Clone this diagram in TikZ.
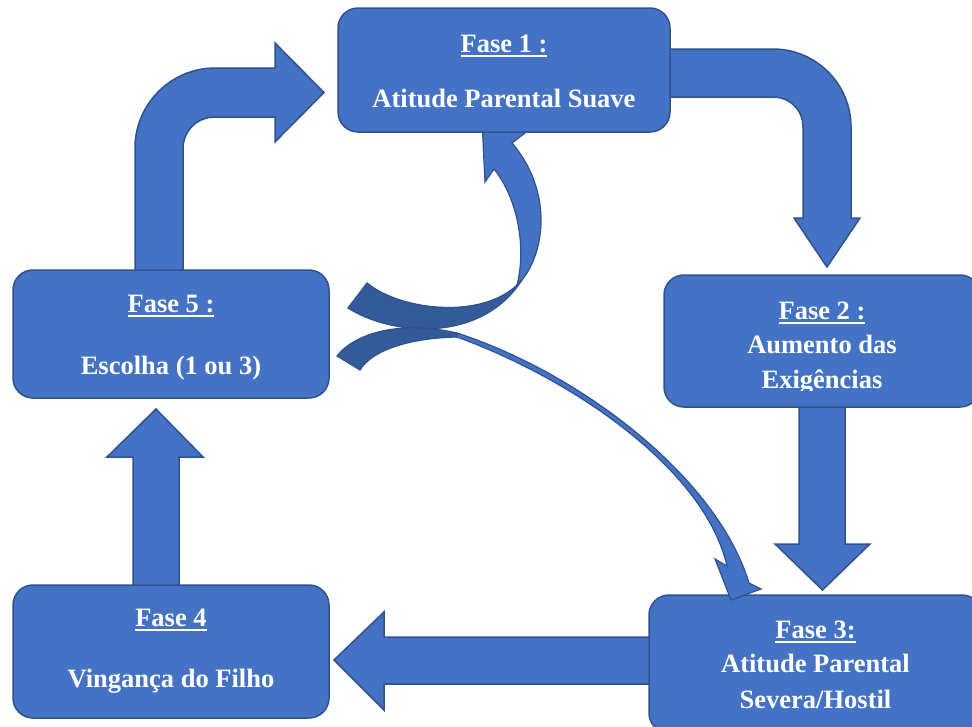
\documentclass[tikz,border=0pt]{standalone}
\usepackage{fontspec}
\setmainfont{Liberation Serif}
\newcommand\myul[1]{\setbox0\hbox{#1}\rlap{\rule[-4.7pt]{\wd0}{2.2pt}}\box0}
\definecolor{fillb}{HTML}{4472C4}
\definecolor{edgeb}{HTML}{2F528F}
\definecolor{darkb}{HTML}{335A99}
\begin{document}
\begin{tikzpicture}[x=1pt,y=-1pt,
  box/.style={draw=edgeb, line width=1.5pt, fill=fillb, rounded corners=20pt, rectangle, inner sep=0pt},
  blk/.style={draw=edgeb, line width=1.5pt, fill=fillb, line join=miter},
  dark/.style={draw=edgeb, line width=1.2pt, fill=darkb},
  txt/.style={text=white, font=\fontsize{26.5}{30}\selectfont\bfseries, anchor=base, inner sep=0pt}]
\useasboundingbox (0,0) rectangle (972,726);

% block arrows
\draw[blk] (670,49) -- (773,49) .. controls (816,49) and (851,84) .. (851,127) -- (851,218) -- (860,218) -- (827,267) -- (794,218) -- (803,218) -- (803,127) .. controls (803,110) and (790,97) .. (773,97) -- (670,97) -- cycle;
\draw[blk] (135,272) -- (135,148) .. controls (135,104) and (171,68) .. (215,68) -- (275,68) -- (275,43) -- (324,92.5) -- (275,142) -- (275,117) -- (215,117) .. controls (197,117) and (183,131) .. (183,149) -- (183,272) -- cycle;
\draw[blk] (799,407) -- (799,544) -- (775,544) -- (822.5,590) -- (870,544) -- (845,544) -- (845,407) -- cycle;
\draw[blk] (650,637) -- (384,637) -- (384,612) -- (334,660) -- (384,710) -- (384,684) -- (650,684) -- cycle;
\draw[blk] (133,586) -- (133,457) -- (107,457) -- (156,409) -- (203,457) -- (179,457) -- (179,586) -- cycle;

% curved arrow back to phase 1
\draw[blk, line width=1.2pt] (522,280) .. controls (546,250) and (552,190) .. (512,143) -- (525,133) -- (482,120) -- (485,182) -- (494,169) .. controls (519,200) and (526,250) .. (517,285) -- cycle;
\draw[dark] (367,283) .. controls (400,310) and (480,320) .. (517,285) -- (522,280) .. controls (480,345) and (390,335) .. (348,308) -- cycle;

% boxes
\node[box, minimum width=332pt, minimum height=124pt] (b1) at (504,70) {};
\node[box, minimum width=316pt, minimum height=132pt] (b2) at (822,341) {};
\node[box, minimum width=333pt, minimum height=138pt] (b3) at (815.5,664) {};
\node[box, minimum width=316pt, minimum height=133pt] (b4) at (171,651.5) {};
\node[box, minimum width=316pt, minimum height=128pt] (b5) at (171,334) {};

% curved arrow to phase 3
\draw[dark] (337,356) .. controls (355,333) and (400,320) .. (457,333) -- (457,337) .. controls (410,338) and (372,350) .. (360,370) -- cycle;
\draw[blk, line width=1.2pt] (457,333) .. controls (580,373) and (717,477) .. (749,583) -- (761,589) -- (731,600) -- (715,559) -- (727,566) .. controls (705,470) and (575,380) .. (457,337) -- cycle;

% texts
\node[txt] (t1a) at (504,52) {\myul{Fase 1 :}};
\node[txt] (t1b) at (504,107) {Atitude Parental Suave};
\node[txt] (t2a) at (822,319) {\myul{Fase 2 :}};
\node[txt] (t2b) at (822,353) {Aumento das};
\begin{scope}
\clip (650,356) rectangle (980,390.5);
\node[txt] (t2c) at (822,388) {Exigências};
\end{scope}
\node[txt] (t3a) at (815.5,638) {\myul{Fase 3:}};
\node[txt] (t3b) at (815.5,672) {Atitude Parental};
\node[txt] (t3c) at (815.5,708) {Severa/Hostil};
\node[txt] (t4a) at (171,626) {\myul{Fase 4}};
\node[txt] (t4b) at (171,687) {Vingança do Filho};
\node[txt] (t5a) at (171,312) {\myul{Fase 5 :}};
\node[txt] (t5b) at (171,374) {Escolha (1 ou 3)};
\end{tikzpicture}
\end{document}
